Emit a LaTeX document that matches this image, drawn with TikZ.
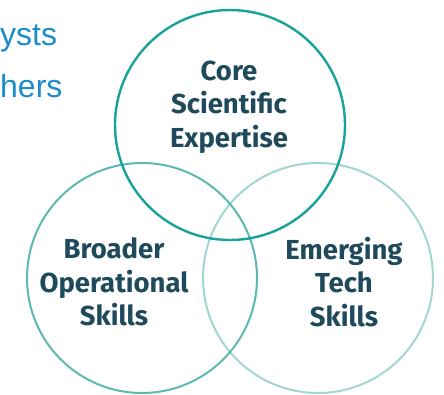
\documentclass[tikz,border=0pt]{standalone}
\usepackage{fontspec}
\setmainfont{Liberation Sans}
\newfontfamily\etiqfont{Fira Sans}
\definecolor{sarcelle}{HTML}{17A39A}
\definecolor{sarcellemoy}{HTML}{5DB8B1}
\definecolor{sarcelleclair}{HTML}{A2D6D3}
\definecolor{ardoise}{HTML}{1F4A5B}
\definecolor{bleutitre}{HTML}{1A8CC8}

\begin{document}
\begin{tikzpicture}[x=1pt,y=-1pt]
\tikzset{cercle/.style={draw, circle, line width=2pt, minimum size=230pt, inner sep=0pt},
etiq/.style={align=center, text=ardoise, font=\etiqfont\bfseries\fontsize{27.5}{33.5}\selectfont},
titre/.style={anchor=base west, inner sep=0pt, text=bleutitre, font=\fontsize{32}{36}\selectfont}}
\useasboundingbox (0,0) rectangle (444,394);
\node[titre] (T1) at (0,45) {ysts};
\node[titre] (T2) at (0,97) {hers};
\node[cercle, draw=sarcelleclair] (Droite) at (318,278) {};
\node[cercle, draw=sarcellemoy] (Gauche) at (142,278) {};
\node[cercle, draw=sarcelle, line width=2.4pt] (Haut) at (230,125) {};
\node[etiq] (E1) at (229,107) {Core\\Scientific\\Expertise};
\node[etiq] (E2) at (114,282) {Broader\\Operational\\Skills};
\node[etiq] (E3) at (344,282) {Emerging\\Tech\\Skills};
\end{tikzpicture}
\end{document}
